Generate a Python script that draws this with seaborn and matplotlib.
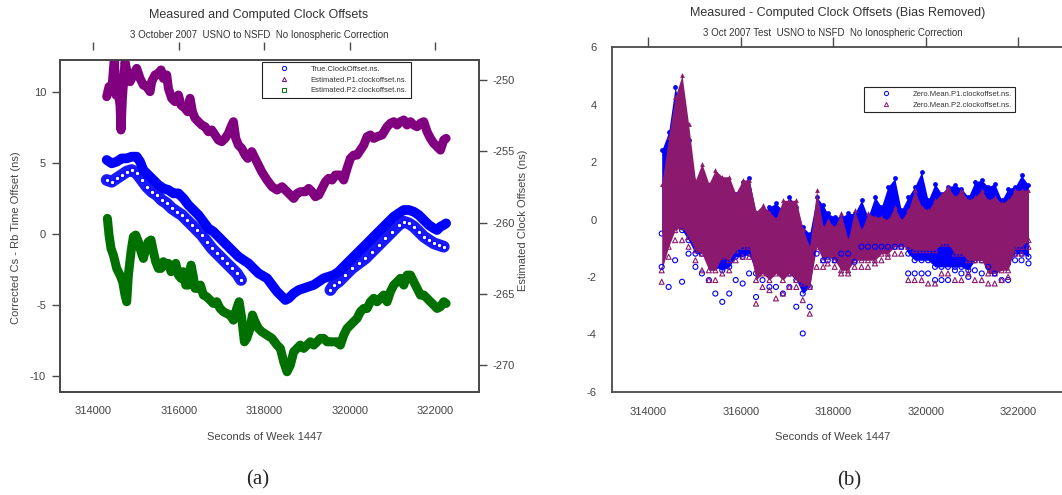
import matplotlib
matplotlib.use("Agg")
import matplotlib.pyplot as plt
from matplotlib.lines import Line2D
import seaborn as sns

# =============================================================================
# 1. DATA
# =============================================================================
# Panel (a): Estimated P1 clock offset (right axis, ns)
p1_est_time = [
    314313, 314368, 314430, 314492, 314531, 314570, 314625, 314648, 314680, 314742,
    314804, 314859, 314937, 315015, 315093, 315171, 315249, 315327, 315366, 315444,
    315522, 315584, 315639, 315717, 315756, 315834, 315912, 315990, 316052, 316146,
    316208, 316263, 316318, 316380, 316458, 316536, 316614, 316692, 316770, 316848,
    316926, 317004, 317082, 317160, 317222, 317277, 317332, 317394, 317472, 317550,
    317612, 317706, 317784, 317862, 317940, 318063, 318180, 318297, 318414, 318531,
    318609, 318687, 318765, 318843, 318960, 319038, 319116, 319194, 319272, 319350,
    319428, 319506, 319584, 319662, 319779, 319857, 319935, 320013, 320091, 320169,
    320247, 320325, 320403, 320481, 320559, 320637, 320754, 320871, 320949, 321027,
    321105, 321183, 321261, 321339, 321417, 321495, 321573, 321651, 321729, 321807,
    321885, 321963, 322041, 322119, 322197, 322252]
p1_est_offset = [
    -251.17, -250.47, -250.82, -248.48, -251.06, -250.59, -251.76, -253.51, -251.29, -248.72,
    -249.65, -250.12, -249.65, -249.19, -249.89, -250.36, -250.47, -250.82, -250.12, -249.65,
    -249.54, -249.30, -249.89, -249.65, -250.59, -251.29, -251.52, -251.06, -251.76, -251.99,
    -252.23, -251.29, -252.23, -252.69, -252.93, -253.16, -253.28, -253.63, -253.51, -253.86,
    -254.21, -254.33, -254.10, -253.75, -253.28, -252.93, -254.10, -254.57, -254.80, -255.27,
    -255.50, -255.03, -255.50, -255.97, -256.44, -257.02, -257.49, -257.72, -257.49, -257.84,
    -258.07, -258.31, -257.96, -257.84, -257.84, -257.61, -257.84, -258.19, -258.07, -257.61,
    -257.14, -256.90, -257.02, -256.67, -256.67, -257.02, -256.20, -255.50, -255.27, -255.27,
    -254.92, -254.57, -253.98, -253.86, -254.10, -253.98, -253.86, -253.28, -253.04, -252.93,
    -253.16, -252.93, -252.81, -253.16, -252.93, -253.16, -253.28, -253.04, -252.93, -253.63,
    -254.10, -254.45, -254.68, -254.92, -254.21, -254.10]

# Panel (a): Estimated P2 clock offset (right axis, ns)
p2_est_time = [
    314329, 314368, 314414, 314469, 314547, 314625, 314687, 314742, 314781, 314820,
    314882, 314937, 314992, 315054, 315116, 315171, 315226, 315288, 315350, 315405,
    315460, 315522, 315584, 315639, 315694, 315756, 315818, 315873, 315928, 315990,
    316052, 316107, 316162, 316224, 316286, 316333, 316380, 316442, 316505, 316575,
    316653, 316731, 316809, 316887, 316965, 317043, 317121, 317199, 317277, 317355,
    317410, 317472, 317534, 317589, 317667, 317722, 317784, 317862, 317940, 318063,
    318180, 318297, 318375, 318453, 318531, 318609, 318687, 318765, 318843, 318921,
    318999, 319077, 319155, 319233, 319311, 319389, 319467, 319545, 319623, 319701,
    319779, 319857, 319935, 320013, 320091, 320169, 320247, 320325, 320403, 320481,
    320559, 320637, 320715, 320793, 320871, 320949, 321027, 321105, 321183, 321261,
    321339, 321417, 321495, 321573, 321651, 321729, 321807, 321885, 321963, 322041,
    322119, 322197, 322252]
p2_est_offset = [
    -259.71, -260.88, -261.82, -262.28, -263.22, -263.69, -264.16, -265.09, -265.56, -263.69,
    -262.05, -261.00, -260.88, -261.35, -262.05, -262.52, -261.82, -261.35, -261.23, -262.05,
    -262.75, -263.22, -263.22, -262.75, -262.99, -262.87, -263.45, -263.22, -262.87, -263.69,
    -263.92, -263.45, -264.39, -264.39, -262.99, -263.69, -264.62, -264.62, -264.39, -265.09,
    -265.21, -265.44, -265.68, -265.56, -266.03, -266.26, -266.38, -266.49, -266.85, -266.03,
    -265.56, -266.73, -268.37, -268.13, -267.43, -266.49, -266.96, -267.43, -267.66, -267.90,
    -268.13, -268.60, -268.83, -269.77, -270.47, -270.00, -269.07, -268.83, -268.60, -268.83,
    -268.60, -268.37, -268.60, -268.37, -268.13, -268.13, -268.37, -268.37, -268.37, -268.37,
    -268.60, -267.90, -267.43, -267.20, -266.96, -266.73, -266.26, -266.03, -266.03, -265.56,
    -265.32, -265.56, -265.32, -265.09, -265.56, -264.86, -264.39, -264.16, -263.92, -264.39,
    -263.69, -263.69, -264.16, -264.62, -265.09, -265.09, -265.32, -265.56, -265.79, -266.03,
    -265.91, -265.56, -265.68]

# Panel (a): true clock offset, dense upper band (left axis, ns)
true_time = [
    314313, 314430, 314547, 314664, 314781, 314898, 315015, 315093, 315171, 315288,
    315405, 315522, 315639, 315756, 315873, 315990, 316107, 316224, 316341, 316458,
    316575, 316692, 316809, 316926, 317043, 317160, 317277, 317394, 317511, 317628,
    317745, 317862, 318063, 318180, 318297, 318414, 318492, 318570, 318687, 318804,
    318921, 319038, 319155, 319272, 319389, 319506, 319623, 319740, 319857, 319974,
    320091, 320208, 320325, 320442, 320559, 320676, 320793, 320910, 321027, 321144,
    321261, 321378, 321495, 321612, 321729, 321846, 321963, 322041, 322119, 322197,
    322252]
true_offset = [
    5.23, 4.99, 5.11, 5.34, 5.34, 5.46, 5.46, 5.11, 4.52, 4.17,
    3.82, 3.47, 3.23, 3.12, 2.88, 2.88, 2.53, 2.06, 1.71, 1.36,
    0.89, 0.42, 0.19, -0.16, -0.52, -0.87, -1.22, -1.57, -1.81, -2.04,
    -2.39, -2.74, -3.09, -3.56, -4.03, -4.38, -4.62, -4.50, -4.15, -3.92,
    -3.80, -3.68, -3.56, -3.33, -3.09, -2.98, -2.86, -2.63, -2.27, -1.92,
    -1.57, -1.22, -0.87, -0.52, -0.16, 0.19, 0.54, 0.89, 1.24, 1.48,
    1.71, 1.71, 1.59, 1.36, 1.01, 0.66, 0.42, 0.30, 0.54, 0.66,
    0.77]

# Panel (a): true clock offset, scattered lower band (two stretches)
true_low_time_1 = [
    314313, 314430, 314547, 314664, 314781, 314898, 315015, 315132, 315249, 315366,
    315483, 315600, 315717, 315834, 315951, 316068, 316185, 316302, 316419, 316536,
    316653, 316770, 316887, 317004, 317121, 317238, 317355, 317456]
true_low_offset_1 = [
    3.82, 3.70, 3.94, 4.17, 4.41, 4.52, 4.29, 3.82, 3.35, 3.00,
    2.77, 2.41, 2.18, 1.83, 1.59, 1.36, 1.01, 0.66, 0.30, -0.05,
    -0.52, -0.98, -1.34, -1.69, -2.04, -2.39, -2.74, -3.21]
true_low_time_2 = [
    319545, 319623, 319740, 319896, 320052, 320208, 320364, 320520, 320676, 320832,
    320988, 321144, 321261, 321378, 321495, 321612, 321729, 321846, 321963, 322080,
    322197]
true_low_offset_2 = [
    -3.92, -3.56, -3.33, -2.86, -2.39, -2.04, -1.69, -1.22, -0.75, -0.28,
    0.19, 0.66, 0.89, 0.77, 0.54, 0.19, -0.16, -0.40, -0.63, -0.75,
    -0.87]

# Panel (b): zero-mean offsets, spread of the point cloud per time slot
zm_time = [
    314290, 314440, 314580, 314730, 314870, 315020, 315160, 315310, 315450, 315600,
    315750, 315890, 316040, 316180, 316330, 316470, 316620, 316760, 316910, 317050,
    317200, 317340, 317490, 317640, 317780, 317880, 318030, 318170, 318320, 318460,
    318610, 318750, 318900, 319040, 319180, 319330, 319470, 319620, 319760, 319910,
    320050, 320200, 320340, 320480, 320630, 320770, 320920, 321060, 321210, 321350,
    321490, 321640, 321780, 321930, 322070, 322220]
zm_p1_top = [
    2.41, 3.05, 4.62, 3.58, 2.76, 1.14, 1.37, 1.14, 1.37, 1.37,
    1.25, 0.90, 1.31, 1.43, 0.21, 0.21, 0.44, 0.56, 0.32, 0.79,
    0.44, -0.26, -0.49, 0.79, 0.50, 0.21, 0.09, 0.09, 0.21, 0.21,
    0.67, 0.09, 0.79, 0.44, 1.14, 1.43, 0.32, 0.79, 1.14, 1.66,
    0.67, 1.25, 0.90, 1.14, 1.20, 1.08, 0.79, 1.31, 1.37, 1.14,
    1.25, 0.67, 1.08, 1.14, 1.54, 1.20]
zm_p1_bottom = [
    -0.49, -0.26, -0.26, -0.37, -0.72, -1.19, -1.19, -1.42, -1.65, -1.77,
    -1.65, -1.30, -1.30, -1.19, -1.88, -1.77, -1.88, -1.65, -1.88, -1.88,
    -2.11, -2.58, -2.35, -0.72, -0.95, -1.19, -1.19, -0.95, -0.95, -1.42,
    -0.72, -0.72, -0.72, -0.72, -0.72, -0.72, -0.72, -1.19, -1.42, -1.42,
    -1.42, -1.65, -1.65, -1.65, -1.65, -1.65, -1.77, -1.42, -1.42, -1.42,
    -1.42, -1.53, -1.53, -1.19, -1.19, -1.30]
zm_p1_tail = [
    -1.65, -2.35, -1.42, -2.17, -1.19, -1.65, -1.88, -2.11, -2.58, -2.87,
    -2.58, -2.11, -2.23, -1.88, -2.70, -2.11, -2.35, -2.35, -2.58, -2.35,
    -3.04, -3.97, -3.04, -1.19, -1.42, -1.42, -1.42, -1.19, -1.19, -1.48,
    -0.95, -0.95, -0.95, -0.95, -0.95, -0.95, -0.95, -1.88, -1.88, -1.88,
    -1.88, -2.11, -2.11, -2.11, -1.77, -1.88, -2.00, -1.77, -1.88, -1.65,
    -1.88, -2.11, -2.11, -1.42, -1.42, -1.53]
zm_p2_top = [
    1.25, 2.88, 4.27, 5.03, 3.34, 1.37, 1.95, 1.25, 1.72, 1.49,
    1.49, 0.90, 1.37, 1.37, 0.27, 0.50, 0.27, 0.03, 0.67, 0.67,
    0.67, -0.32, -0.95, 1.02, -0.26, -0.02, -0.26, 0.21, -0.72, 0.32,
    -0.37, 0.21, 0.09, 0.09, -0.02, 0.44, -0.02, 0.32, 1.02, 0.44,
    0.32, 0.67, 0.90, 1.14, 0.79, 1.02, 0.67, 0.79, 1.02, 0.67,
    0.79, 0.56, 0.67, 1.02, 1.02, 1.02]
zm_p2_bottom = [
    -1.77, -0.95, -0.37, -0.26, -0.61, -1.07, -1.19, -1.77, -1.77, -1.30,
    -1.42, -1.07, -0.95, -0.95, -2.11, -1.88, -2.11, -1.88, -2.11, -1.88,
    -2.11, -2.23, -2.35, -0.95, -1.42, -1.30, -1.42, -1.77, -1.77, -1.42,
    -1.42, -1.42, -1.42, -1.19, -1.19, -0.95, -0.95, -0.95, -1.07, -1.07,
    -1.07, -1.07, -0.84, -0.84, -1.19, -1.19, -1.42, -1.42, -1.42, -1.88,
    -1.88, -1.77, -1.77, -0.95, -0.95, -0.72]
zm_p2_tail = [
    -2.17, -1.30, -0.72, -0.72, -0.95, -1.42, -1.77, -2.11, -2.11, -1.88,
    -1.77, -1.42, -1.30, -1.30, -2.93, -2.35, -2.46, -2.75, -2.58, -2.35,
    -2.35, -2.81, -3.28, -1.65, -1.65, -1.53, -1.65, -1.88, -1.88, -1.65,
    -1.65, -1.65, -1.53, -1.42, -1.30, -1.19, -1.19, -2.11, -2.11, -2.11,
    -2.23, -2.23, -1.88, -1.88, -2.11, -2.11, -1.88, -2.11, -2.11, -2.23,
    -2.23, -2.11, -2.00, -1.19, -1.19, -0.95]

x_ticks = [314000, 316000, 318000, 320000, 322000]
left_ticks_a = [-10, -5, 0, 5, 10]
right_ticks_a = [-270, -265, -260, -255, -250]
ticks_b = [-6, -4, -2, 0, 2, 4, 6]

BLUE = '#0000ff'
PURPLE = '#800080'
GREEN = '#007000'
MAROON = '#8b1a6e'
INK = '#333333'
AXIS = '#4a4a4a'

W, H = 1062, 495


def px(x, y):
    # pixel position (from top-left) -> figure fraction
    return x / W, 1 - y / H


def style_axis(ax, tick_len):
    ax.tick_params(axis='both', direction='out', length=tick_len, width=1,
                   color=AXIS, labelsize=8, labelcolor='#444444', pad=4)
    for sp in ax.spines.values():
        sp.set_color(AXIS)
        sp.set_linewidth(1.3)


def main():
    sns.set_style("white")
    plt.rcParams['font.family'] = ['Liberation Sans', 'DejaVu Sans']
    plt.rcParams['axes.unicode_minus'] = False

    fig = plt.figure(figsize=(W / 100, H / 100), dpi=100)

    # =========================================================================
    # 2. PANEL (a)
    # =========================================================================
    ax = fig.add_axes([60 / W, 1 - 391.7 / H, 419 / W, 331.7 / H])
    ax2 = ax.twinx()

    for t_low, v_low in [(true_low_time_1, true_low_offset_1),
                         (true_low_time_2, true_low_offset_2)]:
        sns.lineplot(x=t_low, y=v_low, ax=ax, color='#1a1aff', lw=8.5,
                     marker='o', markersize=3.2, markerfacecolor='white',
                     markeredgecolor=BLUE, markeredgewidth=0.7)
    sns.lineplot(x=true_time, y=true_offset, ax=ax, color=BLUE, lw=7)

    sns.lineplot(x=p1_est_time, y=p1_est_offset, ax=ax2, color=PURPLE, lw=6.5)
    sns.lineplot(x=p2_est_time, y=p2_est_offset, ax=ax2, color=GREEN, lw=6.5)

    ax.set_xlim(313221, 323021)
    ax.set_ylim(-11.07, 12.26)
    ax2.set_ylim(-271.87, -248.60)
    ax.set_xticks(x_ticks)
    ax.set_yticks(left_ticks_a)
    ax2.set_yticks(right_ticks_a)
    ax.set_xlabel('')
    ax.set_ylabel('')
    style_axis(ax, 6)
    style_axis(ax2, 6)

    top = ax.secondary_xaxis(1.03)
    top.set_xticks(x_ticks)
    top.tick_params(direction='out', length=6, width=1, color=AXIS, labeltop=False)
    for sp in top.spines.values():
        sp.set_visible(False)

    handles_a = [
        Line2D([], [], ls='none', marker='o', ms=3, mfc='none', mec=BLUE, mew=0.7),
        Line2D([], [], ls='none', marker='^', ms=3, mfc='none', mec=PURPLE, mew=0.7),
        Line2D([], [], ls='none', marker='s', ms=3, mfc='none', mec=GREEN, mew=0.7),
    ]
    leg = ax2.legend(handles_a, ['True.ClockOffset.ns.', 'Estimated.P1.clockoffset.ns.',
                                 'Estimated.P2.clockoffset.ns.'],
                     loc='upper left', bbox_to_anchor=(0.482, 0.994), fontsize=5.5,
                     frameon=True, fancybox=False, edgecolor='#222222', framealpha=1,
                     borderpad=0.45, labelspacing=0.45, handlelength=4.9,
                     handletextpad=1.0, borderaxespad=0)
    leg.get_frame().set_linewidth(0.8)
    for t in leg.get_texts():
        t.set_color(INK)

    fig.text(*px(259, 15), 'Measured and Computed Clock Offsets', ha='center',
             va='center', fontsize=9, color=INK)
    fig.text(*px(259, 35), '3 October 2007  USNO to NSFD  No Ionospheric Correction',
             ha='center', va='center', fontsize=7, color=INK)
    fig.text(*px(265, 437), 'Seconds of Week 1447', ha='center', va='center',
             fontsize=8, color='#444444')
    fig.text(*px(16, 238), 'Corrected Cs - Rb Time Offset (ns)', ha='center',
             va='center', rotation=90, fontsize=8, color='#444444')
    fig.text(*px(523, 220), 'Estimated Clock Offsets (ns)', ha='center',
             va='center', rotation=90, fontsize=8, color='#444444')
    fig.text(*px(258, 480), '(a)', ha='center', va='center', fontsize=15,
             family='Liberation Serif')

    # =========================================================================
    # 3. PANEL (b)
    # =========================================================================
    bx = fig.add_axes([611.7 / W, 1 - 391.7 / H, (W - 611.7) / W, 344.4 / H])

    # P1 cloud first, its lower edge partly hidden by the P2 cloud
    bx.fill_between(zm_time, zm_p1_bottom, zm_p1_top, color=BLUE, lw=0)
    sns.scatterplot(x=zm_time, y=zm_p1_top, ax=bx, color=BLUE, s=12, linewidth=0)
    sns.scatterplot(x=zm_time, y=zm_p1_bottom, ax=bx, marker='o', s=13,
                    facecolor='none', edgecolor=BLUE, linewidth=0.8)

    bx.fill_between(zm_time, zm_p2_bottom, zm_p2_top, color=MAROON, lw=0)
    sns.scatterplot(x=zm_time, y=zm_p2_top, ax=bx, color=MAROON, s=12,
                    marker='^', linewidth=0)
    sns.scatterplot(x=zm_time, y=zm_p2_bottom, ax=bx, marker='^', s=13,
                    facecolor='none', edgecolor=MAROON, linewidth=0.8)

    # sparse lowest points of both clouds: open symbols
    sns.scatterplot(x=zm_time, y=zm_p1_tail, ax=bx, marker='o', s=13,
                    facecolor='none', edgecolor=BLUE, linewidth=0.8)
    sns.scatterplot(x=zm_time, y=zm_p2_tail, ax=bx, marker='^', s=13,
                    facecolor='none', edgecolor=MAROON, linewidth=0.8)

    bx.set_xlim(313209, 322945)
    bx.set_ylim(-6, 6)
    bx.set_xticks(x_ticks)
    bx.set_yticks(ticks_b)
    bx.set_xlabel('')
    bx.set_ylabel('')
    style_axis(bx, 7)
    bx.tick_params(axis='x', top=True, labeltop=False)
    bx.spines['right'].set_visible(False)

    handles_b = [
        Line2D([], [], ls='none', marker='o', ms=3, mfc='none', mec=BLUE, mew=0.7),
        Line2D([], [], ls='none', marker='^', ms=3, mfc='none', mec=MAROON, mew=0.7),
    ]
    leg_b = bx.legend(handles_b, ['Zero.Mean.P1.clockoffset.ns.',
                                  'Zero.Mean.P2.clockoffset.ns.'],
                      loc='upper left', bbox_to_anchor=(0.56, 0.884), fontsize=5.5,
                      frameon=True, fancybox=False, edgecolor='#222222', framealpha=1,
                      borderpad=0.45, labelspacing=0.45, handlelength=4.9,
                      handletextpad=1.0, borderaxespad=0)
    leg_b.get_frame().set_linewidth(0.8)
    for t in leg_b.get_texts():
        t.set_color(INK)

    fig.text(*px(838, 13), 'Measured - Computed Clock Offsets (Bias Removed)',
             ha='center', va='center', fontsize=9, color=INK)
    fig.text(*px(833, 33), '3 Oct 2007 Test  USNO to NSFD  No Ionospheric Correction',
             ha='center', va='center', fontsize=7, color=INK)
    fig.text(*px(833, 437), 'Seconds of Week 1447', ha='center', va='center',
             fontsize=8, color='#444444')
    fig.text(*px(849, 481), '(b)', ha='center', va='center', fontsize=15,
             family='Liberation Serif')

    fig.savefig('out.png', dpi=100)


if __name__ == "__main__":
    main()
